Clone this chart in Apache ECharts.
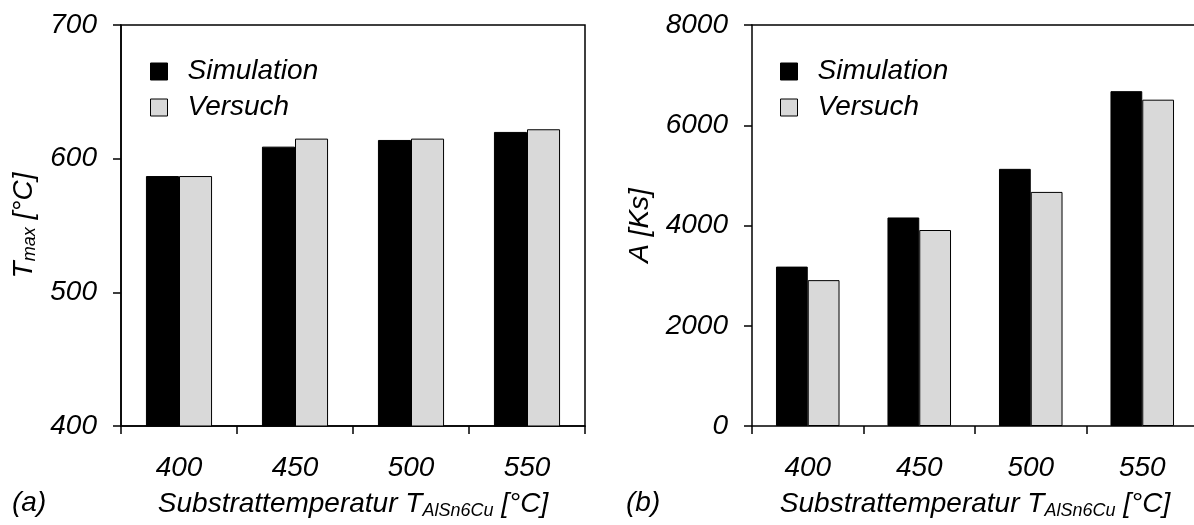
<!DOCTYPE html>
<html>
<head>
<meta charset="utf-8">
<script src="https://cdn.jsdelivr.net/npm/echarts@6/dist/echarts.min.js"></script>
<style>
html,body{margin:0;padding:0;background:#fff;overflow:hidden;width:1194px;height:525px;}
#chart{width:1220px;height:525px;}
</style>
</head>
<body>
<div id="chart"></div>
<script>
const categories = ['400', '450', '500', '550'];
const seriesNames = ['Simulation', 'Versuch'];
const tmaxSimulation = [587, 609, 614, 620];
const tmaxVersuch = [587, 615, 615, 622];
const aSimulation = [3180, 4160, 5130, 6680];
const aVersuch = [2910, 3910, 4670, 6510];
const tmaxAxis = { min: 400, max: 700, interval: 100 };
const aAxis = { min: 0, max: 8000, interval: 2000 };
const panelLabels = ['(a)', '(b)'];

const FONT = '"Liberation Sans", Arial, sans-serif';
const BLACK = '#000';
const GREY = '#d9d9d9';
const FS = 28;

const xNameRich = {
  n: { fontSize: FS, fontStyle: 'italic', fontFamily: FONT, color: BLACK, lineHeight: 32 },
  s: { fontSize: 18, fontStyle: 'italic', fontFamily: FONT, color: BLACK, lineHeight: 11, verticalAlign: 'bottom' }
};
const yNameRich = {
  n: { fontSize: FS, fontStyle: 'italic', fontFamily: FONT, color: BLACK, lineHeight: 30 },
  s: { fontSize: 18, fontStyle: 'italic', fontFamily: FONT, color: BLACK, lineHeight: 12, verticalAlign: 'bottom' }
};

function xAxisFor(gi) {
  return {
    type: 'category', gridIndex: gi, data: categories,
    name: '{n|Substrattemperatur T}{s|AlSn6Cu}{n| [°C]}',
    nameLocation: 'middle', nameGap: 62,
    nameTextStyle: { rich: xNameRich },
    axisLine: { lineStyle: { color: BLACK, width: 1.5 } },
    axisTick: { show: true, length: 8, lineStyle: { color: BLACK, width: 1.5 } },
    axisLabel: { margin: 28, fontSize: FS, fontStyle: 'italic', fontFamily: FONT, color: BLACK },
    splitLine: { show: false }
  };
}
function topFrameAxis(gi) {
  return {
    type: 'category', gridIndex: gi, data: categories, position: 'top',
    axisLine: { show: true, lineStyle: { color: BLACK, width: 1.5 } },
    axisTick: { show: false }, axisLabel: { show: false }, splitLine: { show: false }
  };
}
function yAxisFor(gi, ax, name, gap) {
  return {
    type: 'value', gridIndex: gi, min: ax.min, max: ax.max, interval: ax.interval,
    name: name, nameLocation: 'middle', nameGap: gap,
    nameTextStyle: { rich: yNameRich },
    axisLine: { show: true, lineStyle: { color: BLACK, width: 1.5 } },
    axisTick: { show: true, length: 8, lineStyle: { color: BLACK, width: 1.5 } },
    axisLabel: {
      margin: 24, fontSize: FS, fontStyle: 'italic', fontFamily: FONT, color: BLACK,
      padding: [9, 0, 0, 0],
      formatter: function (v) { return String(v); }
    },
    splitLine: { show: false }
  };
}
function barSeries(name, data, gi, color) {
  return {
    type: 'bar', name: name, data: data,
    xAxisIndex: gi, yAxisIndex: gi,
    barWidth: '28.5%', barGap: '0%',
    itemStyle: { color: color, borderColor: BLACK, borderWidth: 1 },
    emphasis: { disabled: true },
    animation: false
  };
}
function legendFor(left) {
  return {
    orient: 'vertical', left: left, top: 57.5, padding: 0,
    itemWidth: 17, itemHeight: 17, itemGap: 8,
    icon: 'rect',
    data: [
      { name: seriesNames[0], itemStyle: { color: BLACK, borderColor: BLACK, borderWidth: 1 } },
      { name: seriesNames[1], itemStyle: { color: GREY, borderColor: BLACK, borderWidth: 1 } }
    ],
    textStyle: { fontSize: FS, fontStyle: 'italic', fontFamily: FONT, color: BLACK, lineHeight: 28, padding: [0, 0, 0, 15] },
    selectedMode: false
  };
}

const chart = echarts.init(document.getElementById('chart'), null, { renderer: 'canvas' });
chart.setOption({
  animation: false,
  backgroundColor: '#fff',
  grid: [
    { left: 121, top: 25, width: 464, height: 407, show: true, borderColor: BLACK, borderWidth: 1.5, backgroundColor: 'transparent' },
    { left: 752, top: 25, width: 446, height: 407, show: false }
  ],
  legend: [legendFor(150), legendFor(780)],
  xAxis: [xAxisFor(0), xAxisFor(1), topFrameAxis(1)],
  yAxis: [
    yAxisFor(0, tmaxAxis, '{n|T}{s|max}{n| [°C]}', 82),
    yAxisFor(1, aAxis, '{n|A [Ks]}', 97)
  ],
  series: [
    barSeries(seriesNames[0], tmaxSimulation, 0, BLACK),
    barSeries(seriesNames[1], tmaxVersuch, 0, GREY),
    barSeries(seriesNames[0], aSimulation, 1, BLACK),
    barSeries(seriesNames[1], aVersuch, 1, GREY)
  ],
  graphic: [
    { type: 'text', left: 12, top: 489, style: { text: panelLabels[0], fontSize: FS, fontStyle: 'italic', fontFamily: FONT, fill: BLACK } },
    { type: 'text', left: 626, top: 489, style: { text: panelLabels[1], fontSize: FS, fontStyle: 'italic', fontFamily: FONT, fill: BLACK } }
  ]
});
</script>
</body>
</html>
